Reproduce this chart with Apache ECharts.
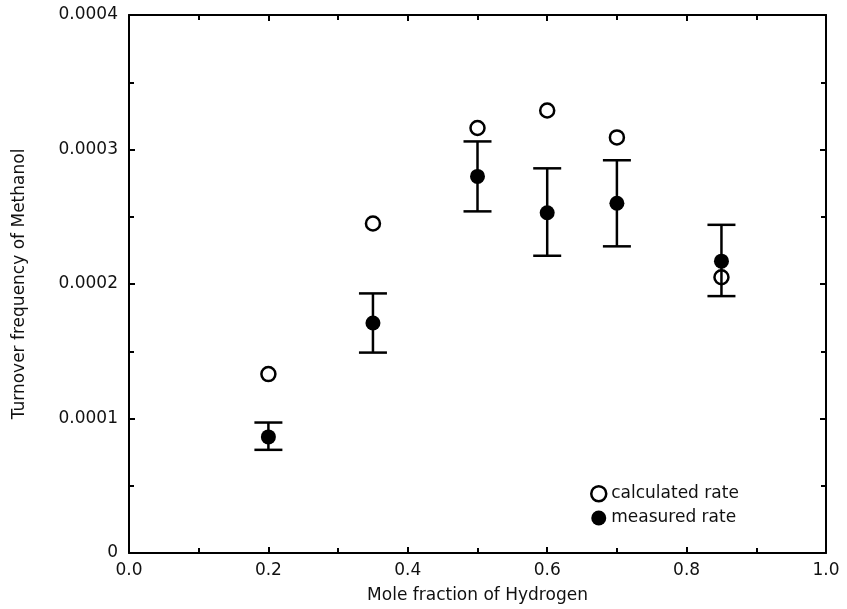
<!DOCTYPE html>
<html><head><meta charset="utf-8">
<script src="https://cdn.jsdelivr.net/npm/echarts@6/dist/echarts.min.js"></script>
<style>html,body{margin:0;padding:0;background:#fff}#c{width:847px;height:609px}</style>
</head><body><div id="c"></div>
<script>
var xValues = [0.2, 0.35, 0.5, 0.6, 0.7, 0.85];
var calculatedRate = [0.000133, 0.000245, 0.000316, 0.000329, 0.000309, 0.000205];
var measuredRate = [0.0000863, 0.000171, 0.000280, 0.000253, 0.000260, 0.000217];
var errorLow = [0.0000767, 0.000149, 0.000254, 0.000221, 0.000228, 0.000191];
var errorHigh = [0.0000970, 0.000193, 0.000306, 0.000286, 0.000292, 0.000244];

var font = 'DejaVu Sans, Liberation Sans, sans-serif';
var chart = echarts.init(document.getElementById('c'));

var calcData = xValues.map(function(x, i){ return [x, calculatedRate[i]]; });
var measData = xValues.map(function(x, i){ return [x, measuredRate[i]]; });
var errData = xValues.map(function(x, i){ return [x, errorLow[i], errorHigh[i]]; });

var axisLineStyle = {color: '#000', width: 2};
function xAx(pos, showLabel) {
  return {
    type: 'value', min: 0, max: 1, interval: 0.2, position: pos,
    name: showLabel ? 'Mole fraction of Hydrogen' : '',
    nameLocation: 'middle', nameGap: 34,
    nameTextStyle: {fontFamily: font, fontSize: 17, color: '#111'},
    axisLine: {show: true, onZero: false, lineStyle: axisLineStyle},
    axisTick: {show: true, inside: true, length: 6, lineStyle: {color: '#000', width: 2}},
    minorTick: {show: true, splitNumber: 2, length: 5, lineStyle: {color: '#000', width: 2}},
    axisLabel: {show: showLabel, formatter: function(v){ return v.toFixed(1); }, fontFamily: font, fontSize: 17, color: '#111', margin: 9},
    splitLine: {show: false}
  };
}
function yAx(pos, showLabel) {
  return {
    type: 'value', min: 0, max: 0.0004, interval: 0.0001, position: pos,
    name: showLabel ? 'Turnover frequency of Methanol' : '',
    nameLocation: 'middle', nameGap: 101, nameRotate: 90,
    nameTextStyle: {fontFamily: font, fontSize: 17, color: '#111'},
    axisLine: {show: true, onZero: false, lineStyle: axisLineStyle},
    axisTick: {show: true, inside: true, length: 6, lineStyle: {color: '#000', width: 2}},
    minorTick: {show: true, splitNumber: 2, length: 5, lineStyle: {color: '#000', width: 2}},
    axisLabel: {show: showLabel, formatter: function(v){ return v === 0 ? '0' : v.toFixed(4); }, fontFamily: font, fontSize: 17, color: '#111', margin: 11},
    splitLine: {show: false}
  };
}

chart.setOption({
  animation: false,
  backgroundColor: '#fff',
  grid: {left: 129, right: 21, top: 15, bottom: 55, containLabel: false},
  xAxis: [xAx('bottom', true), xAx('top', false)],
  yAxis: [yAx('left', true), yAx('right', false)],
  legend: {
    orient: 'vertical', left: 585, top: 480, itemGap: 7,
    itemWidth: 15, itemHeight: 15,
    textStyle: {fontFamily: font, fontSize: 17, color: '#111'},
    data: [
      {name: 'calculated rate', icon: 'circle', itemStyle: {color: '#fff', borderColor: '#000', borderWidth: 2.5}},
      {name: 'measured rate', icon: 'circle', itemStyle: {color: '#000'}}
    ]
  },
  series: [
    {
      type: 'custom', name: 'error', xAxisIndex: 0, yAxisIndex: 0,
      data: errData, z: 2,
      renderItem: function(params, api) {
        var lo = api.coord([api.value(0), api.value(1)]);
        var hi = api.coord([api.value(0), api.value(2)]);
        var hw = 14;
        var st = {stroke: '#000', lineWidth: 2.5};
        return {type: 'group', children: [
          {type: 'line', shape: {x1: lo[0], y1: lo[1], x2: hi[0], y2: hi[1]}, style: st},
          {type: 'line', shape: {x1: lo[0]-hw, y1: lo[1], x2: lo[0]+hw, y2: lo[1]}, style: st},
          {type: 'line', shape: {x1: hi[0]-hw, y1: hi[1], x2: hi[0]+hw, y2: hi[1]}, style: st}
        ]};
      }
    },
    {
      type: 'scatter', name: 'measured rate', data: measData, symbol: 'circle', symbolSize: 15, z: 3,
      itemStyle: {color: '#000', opacity: 1}
    },
    {
      type: 'scatter', name: 'calculated rate', data: calcData, symbol: 'circle', symbolSize: 14, z: 4,
      itemStyle: {color: 'rgba(255,255,255,0)', borderColor: '#000', borderWidth: 2.5, opacity: 1}
    }
  ]
});
</script></body></html>
